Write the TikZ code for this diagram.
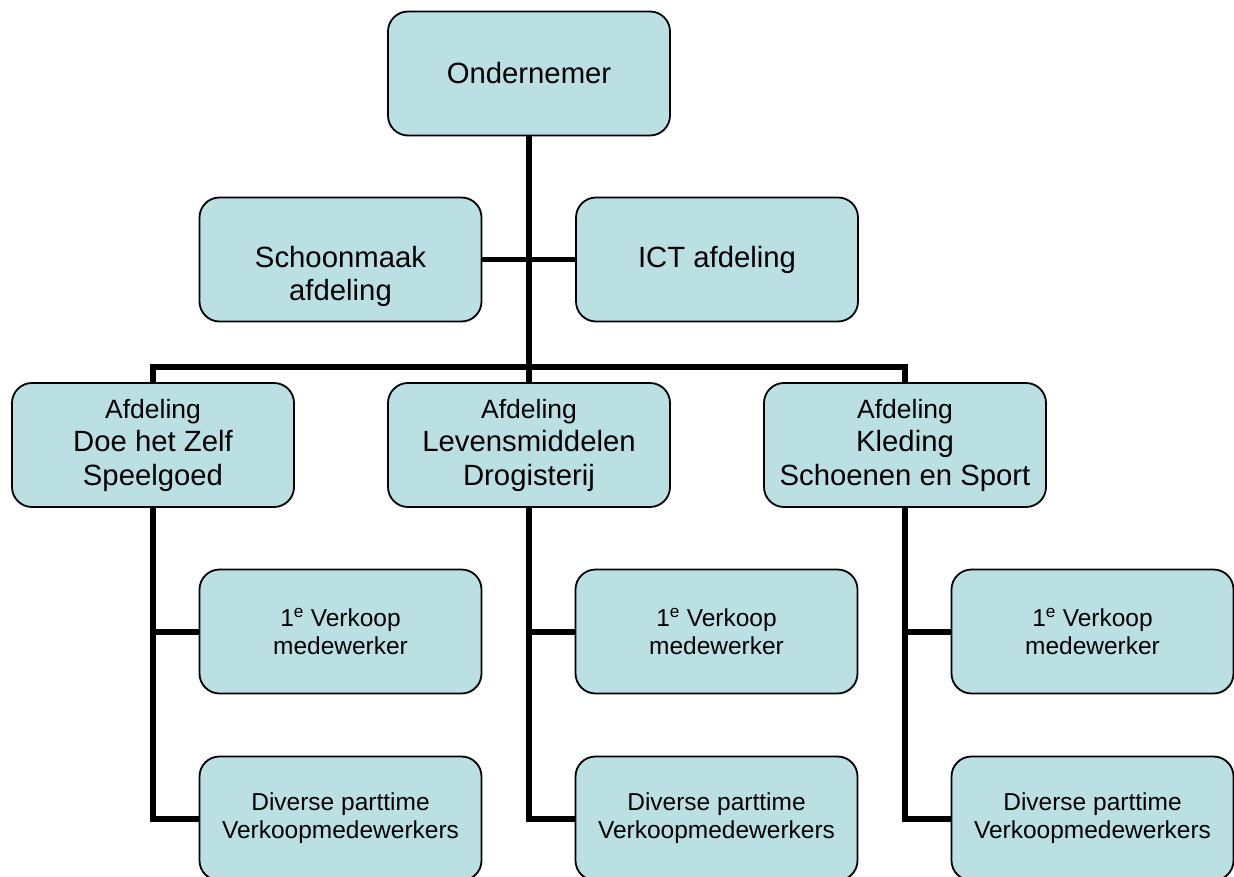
\documentclass[tikz,border=0pt]{standalone}
\usepackage{fontspec}
\setmainfont{Liberation Sans}
\usetikzlibrary{backgrounds,calc}
\definecolor{boxfill}{RGB}{187,224,227}
\newcommand\afdfont{\fontsize{26.5}{33.5}\selectfont}
\begin{document}
\begin{tikzpicture}[x=1pt,y=-1pt,
  box/.style={draw=black, line width=1.8pt, fill=boxfill, rounded corners=20pt,
    minimum width=282pt, minimum height=124pt, inner sep=0pt, align=center},
  big/.style={font=\fontsize{29.3}{33.5}\selectfont},
  small/.style={font=\fontsize{24.5}{28}\selectfont},
  conn/.style={line width=6pt, line join=miter, line cap=butt, draw=black},
  ]
\useasboundingbox (0,0) rectangle (1234,877);
\clip (0,0) rectangle (1234,877);

\node[box,big] (ond) at (529,73.5) {Ondernemer};
\node[box,label={[big,align=center,yshift=-17pt]center:{Schoonmaak\\afdeling}}] (schoon) at (340.5,259.5) {};
\node[box,big] (ict) at (717,259.5) {ICT afdeling};

\node[box,big] (afd1) at (153,445) {{\afdfont Afdeling}\\Doe het Zelf\\Speelgoed};
\node[box,big] (afd2) at (529,445) {{\afdfont Afdeling}\\Levensmiddelen\\Drogisterij};
\node[box,big] (afd3) at (905,445) {{\afdfont Afdeling}\\Kleding\\Schoenen en Sport};

\node[box,small] (v1) at (340.5,631.5) {1\textsuperscript{e} Verkoop\\medewerker};
\node[box,small] (v2) at (716.5,631.5) {1\textsuperscript{e} Verkoop\\medewerker};
\node[box,small] (v3) at (1092.5,631.5) {1\textsuperscript{e} Verkoop\\medewerker};

\node[box,small] (d1) at (340.5,818.5) {Diverse parttime\\Verkoopmedewerkers};
\node[box,small] (d2) at (716.5,818.5) {Diverse parttime\\Verkoopmedewerkers};
\node[box,small] (d3) at (1092.5,818.5) {Diverse parttime\\Verkoopmedewerkers};

\begin{scope}[on background layer]
\coordinate (barL) at (153,367);
\coordinate (barR) at (905,367);
\draw[conn] (d1.west) -| (barL) -- (barR) |- (d3.west);
\draw[conn] (ond.south) |- (d2.west);
\draw[conn] (v1.west) -- (v1.west -| barL);
\draw[conn] (v2.west) -- (v2.west -| ond.south);
\draw[conn] (v3.west) -- (v3.west -| barR);
\draw[conn, line width=5pt] (schoon.east) -- (ict.west);
\end{scope}
\end{tikzpicture}
\end{document}
